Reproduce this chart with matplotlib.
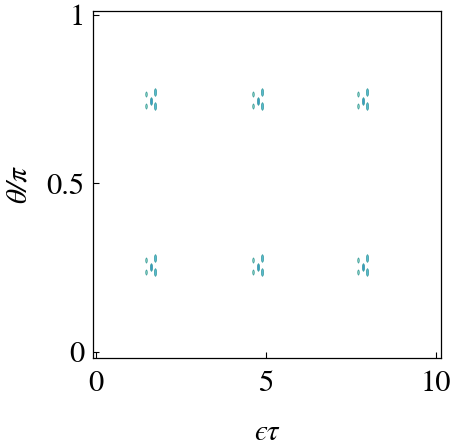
import numpy as np
import matplotlib
matplotlib.use("Agg")
from matplotlib import pyplot as plt

plt.rcParams['font.family'] = ['STIXGeneral', 'DejaVu Serif']
plt.rcParams['mathtext.fontset'] = 'stix'

# blob centres (eps*tau, theta/pi)
cluster_x = [1.62, 4.76, 7.85]
cluster_y = [0.252, 0.745]
# offsets of the pieces inside each cluster (x, y)
piece_dx = [-0.15, -0.15, 0.0, 0.12, 0.12]
piece_dy = [0.02, -0.016, 0.0, 0.026, -0.014]
piece_shade = [0.45, 0.45, 0.7, 0.6, 0.6]

# tick labels
xticks = [0, 5, 10]
yticks = [0, 0.5, 1]
yticklabels = ['0', '0.5', '1']

fig = plt.figure(figsize=(4.5, 4.47), dpi=100)
ax = fig.add_axes([93/450, 1-358/447, 348/450, 347/447])

# thin vertical lens shaped marker
t = np.linspace(0, 2*np.pi, 40)
lens = np.column_stack([0.3*np.sin(t)*np.abs(np.sin(t))**0.3, np.cos(t)])

for cx in cluster_x:
    for cy in cluster_y:
        for k in range(len(piece_dx)):
            ax.scatter(cx + piece_dx[k], cy + piece_dy[k], marker=lens,
                       s=14 if k < 2 else 30,
                       facecolor=plt.cm.GnBu(piece_shade[k]),
                       edgecolor='#3a9c9c', linewidths=0.5, zorder=3)

ax.set_xlim(-0.08, 10.15)
ax.set_ylim(-0.018, 1.012)
ax.set_xticks(xticks)
ax.set_yticks(yticks)
ax.set_yticklabels(yticklabels)
ax.tick_params(direction='in', length=4, width=0.8, labelsize=22, pad=6)
ax.tick_params(axis='x', pad=9)
for s in ax.spines.values():
    s.set_linewidth(0.9)

ax.set_xlabel('ϵτ', fontsize=21, style='italic', va='center')
ax.set_ylabel('θ/π', fontsize=21, style='italic', va='center')
ax.xaxis.set_label_coords(0.5, -0.215)
ax.yaxis.set_label_coords(-0.215, 0.5)

fig.savefig('out.png', dpi=100)
